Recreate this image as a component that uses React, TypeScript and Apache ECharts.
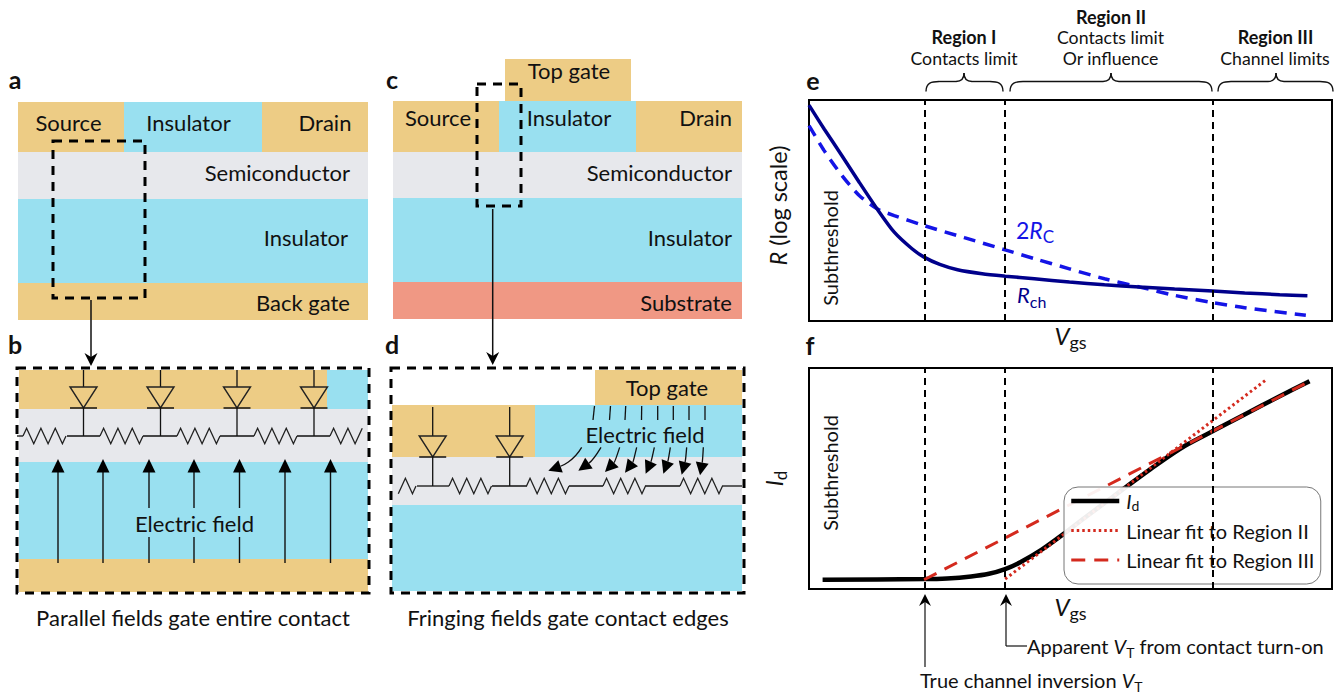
import React, { useEffect, useRef } from "react";
import * as echarts from "echarts";

// ---- curve data (Vgs and response, arbitrary normalised units) ----
const rchX = [0, 2.9, 6.3, 9.6, 13, 16.3, 19.7, 22, 25, 28.4, 33.1, 37.5, 43.1, 49.8, 56.5, 63.2, 69.9, 77.2, 83.3, 90, 95.3];
const rchY = [97.7, 86.9, 74.8, 62.8, 50.8, 40.2, 32.7, 28.9, 25.6, 23.2, 21.4, 20.3, 19.1, 17.6, 16.4, 15.4, 14.5, 13.6, 12.7, 11.9, 11.4];
const rcX = [0, 2.9, 6.3, 9.6, 13, 16.3, 22, 29.7, 37.5, 43.1, 49.8, 56.5, 63.2, 69.9, 77.2, 83.3, 95];
const rcY = [88.4, 77.1, 65.8, 56.8, 50.8, 47.7, 43.2, 37.7, 32.2, 28.2, 23.6, 19.1, 15.4, 11.6, 8.3, 6.0, 2.6];
const idX = [2.6, 22, 26.4, 31, 34.4, 37.5, 40.4, 44.5, 48.5, 53.1, 57.8, 60.8, 66.5, 71.9, 77.6, 83.3, 90, 95.7];
const idY = [4.2, 4.5, 4.8, 5.7, 6.9, 9, 12.1, 17.8, 24.6, 32.9, 41.2, 46.5, 56.3, 64.8, 71.9, 79, 87.2, 94];
const fit2X = [37.5, 87.6];
const fit2Y = [4.5, 95];
const fit3X = [22, 95.7];
const fit3Y = [4.2, 94];
const regionEdges = [22.2, 37.5, 77.2];
const legendNames = ["Id", "Linear fit to Region II", "Linear fit to Region III"];

const FONT = "Lato";
const GOLD = "#edcc85", BLUE = "#99e0f0", GREY = "#e7e8ec", SALMON = "#f09884";
const TXT = "#111";

const zip = (a: number[], b: number[]) => a.map((v, i) => [v, b[i]]);

const rect = (x0: number, y0: number, x1: number, y1: number, fill: string) => ({
  type: "rect", shape: { x: x0, y: y0, width: x1 - x0, height: y1 - y0 }, style: { fill },
});
const dashBox = (x0: number, y0: number, x1: number, y1: number, w = 2.5) => ({
  type: "rect", shape: { x: x0, y: y0, width: x1 - x0, height: y1 - y0 },
  style: { fill: "none", stroke: "#000", lineWidth: w, lineDash: [9, 7] },
});
const line = (x1: number, y1: number, x2: number, y2: number, w = 1.3, stroke = "#111") => ({
  type: "line", shape: { x1, y1, x2, y2 }, style: { stroke, lineWidth: w },
});
const text = (t: string, x: number, y: number, o: any = {}) => {
  const { rotation, ...s } = o;
  return {
    type: "text", x, y: rotation ? y : y - 1.5, rotation: rotation || 0,
    style: { text: t, fontFamily: FONT, fontSize: 22, fill: TXT, align: "center", verticalAlign: "middle", ...s },
  };
};
const poly = (points: number[][], fill: string) => ({ type: "polygon", shape: { points }, style: { fill } });

const upArrowOpen = (x: number, yTip: number, yTail: number, w = 1.4) => [
  line(x, yTip + 4, x, yTail, w),
  poly([[x, yTip], [x + 6, yTip + 12], [x, yTip + 8], [x - 6, yTip + 12]], "#000"),
];
const downArrowOpen = (x: number, yTail: number, yTip: number) => [
  line(x, yTail, x, yTip - 4, 1.5),
  poly([[x, yTip], [x + 6.5, yTip - 13], [x, yTip - 9], [x - 6.5, yTip - 13]], "#000"),
];

const diode = (x: number, yTop: number, yTri: number, yBar: number, yWire: number) => [
  line(x, yTop, x, yTri),
  { type: "polygon", shape: { points: [[x - 13.5, yTri], [x + 13.5, yTri], [x, yBar]] }, style: { fill: "none", stroke: "#222", lineWidth: 1.4 } },
  line(x - 13.5, yBar, x + 13.5, yBar, 1.5),
  line(x, yBar, x, yWire),
];

const resistor = (x0: number, x1: number, y: number, minX: number, maxX: number) => {
  const amp = 7.8;
  const step = (x1 - x0) / 6;
  const pts: number[][] = [[x0, y]];
  for (let i = 0; i < 6; i++) pts.push([x0 + (i + 0.5) * step, y + (i % 2 === 0 ? -amp : amp)]);
  pts.push([x1, y]);
  const kept = pts.filter((p) => p[0] >= minX && p[0] <= maxX);
  return { type: "polyline", shape: { points: kept }, style: { stroke: "#222", lineWidth: 1.3, fill: "none" } };
};

const brace = (x0: number, xm: number, x1: number) => {
  const yB = 91.5, yM = 81.5, yT = 73;
  const seg = (a: number[], c1: number[], c2: number[], b: number[]) => ({
    type: "bezierCurve",
    shape: { x1: a[0], y1: a[1], cpx1: c1[0], cpy1: c1[1], cpx2: c2[0], cpy2: c2[1], x2: b[0], y2: b[1] },
    style: { stroke: "#111", lineWidth: 1.4, fill: "none" },
  });
  return [
    seg([x0, yB], [x0, yM + 1], [x0 + 6, yM], [x0 + 13, yM]),
    line(x0 + 13, yM, xm - 8, yM, 1.4),
    seg([xm - 8, yM], [xm - 3, yM], [xm, yM - 3], [xm, yT]),
    seg([xm, yT], [xm, yM - 3], [xm + 3, yM], [xm + 8, yM]),
    line(xm + 8, yM, x1 - 13, yM, 1.4),
    seg([x1 - 13, yM], [x1 - 6, yM], [x1, yM + 1], [x1, yB]),
  ];
};

const curvedArrows = [
  [590, 322, 565, 365, 490, 392], [648, 322, 625, 360, 580, 392], [704, 322, 690, 365, 660, 396], [755, 322, 745, 365, 720, 398],
  [808, 322, 800, 360, 782, 401], [856, 322, 850, 360, 835, 401], [905, 322, 902, 360, 890, 404], [955, 322, 953, 360, 945, 406],
];
const curved = curvedArrows.flatMap((a) => {
  const X = (z: number) => 385 + z / 3, Y = (z: number) => 340 + z / 3;
  const sx = X(a[0]), sy = Y(a[1]), cx = X(a[2]), cy = Y(a[3]), tx = X(a[4]), ty = Y(a[5]);
  let dx = tx - cx, dy = ty - cy;
  const L = Math.hypot(dx, dy); dx /= L; dy /= L;
  const hl = 13, hw = 6.5;
  const bx = tx - dx * hl, by = ty - dy * hl;
  return [
    { type: "bezierCurve", shape: { x1: sx, y1: sy, cpx1: cx, cpy1: cy, cpx2: bx, cpy2: by, x2: bx, y2: by }, style: { stroke: "#111", lineWidth: 1.3, fill: "none" } },
    poly([[tx, ty], [bx - dy * hw, by + dx * hw], [bx + dy * hw, by - dx * hw]], "#000"),
  ];
});

const rich = (size: number, color = TXT, lh = size + 8) => ({
  i: { fontFamily: FONT, fontStyle: "italic", fontSize: size, fill: color, color, lineHeight: lh },
  n: { fontFamily: FONT, fontSize: size, fill: color, color, lineHeight: lh },
  s: { fontFamily: FONT, fontSize: size - 6, fill: color, color, verticalAlign: "bottom", lineHeight: lh - 6 },
});

const graphics: any[] = [
  // panel a
  rect(18, 102, 124, 152, GOLD), rect(124, 102, 262, 152, BLUE), rect(262, 102, 368, 152, GOLD),
  rect(18, 152, 368, 199, GREY), rect(18, 199, 368, 283, BLUE), rect(18, 283, 368, 320, GOLD),
  dashBox(53, 141, 145, 298, 3),
  text("a", 15, 80, { fontWeight: "bold", fontSize: 25 }),
  text("Source", 68.5, 124), text("Insulator", 188.5, 124), text("Drain", 325, 124),
  text("Semiconductor", 350, 173.5, { align: "right" }), text("Insulator", 348, 238.5, { align: "right" }), text("Back gate", 350, 303.5, { align: "right" }),
  ...downArrowOpen(91, 300, 366),
  // panel b
  rect(19, 370, 327, 409, GOLD), rect(327, 370, 368, 409, BLUE),
  rect(19, 409, 368, 462, GREY), rect(19, 462, 368, 559, BLUE), rect(19, 559, 368, 592, GOLD),
  ...[83.5, 160.5, 237, 314].flatMap((x) => diode(x, 370, 387, 408, 436)),
  line(17, 436, 23, 436), line(67, 436, 100, 436), line(143, 436, 177, 436), line(220, 436, 254, 436), line(297, 436, 330, 436),
  ...[23, 100, 177, 254, 330].map((x) => resistor(x, x + 43, 436, 19, 368)),
  ...[58, 103, 149, 194, 239.5, 285, 330.5].flatMap((x) => [
    line(x, 563, x, 470, 1.4),
    poly([[x, 459], [x + 6.5, 472.5], [x - 6.5, 472.5]], "#000"),
  ]),
  rect(136, 508, 254, 537, BLUE),
  text("Electric field", 194.5, 525),
  dashBox(17, 368, 369, 593, 3),
  text("b", 15, 345, { fontWeight: "bold", fontSize: 25 }),
  text("Parallel fields gate entire contact", 193, 619),
  // panel c
  rect(505, 59, 631, 101, GOLD),
  rect(393, 101, 499, 152, GOLD), rect(499, 101, 636, 152, BLUE), rect(636, 101, 742, 152, GOLD),
  rect(393, 152, 742, 198, GREY), rect(393, 198, 742, 282, BLUE), rect(393, 282, 742, 319, SALMON),
  dashBox(477, 84, 521, 206, 3),
  text("c", 392, 80, { fontWeight: "bold", fontSize: 25 }),
  text("Top gate", 569, 71.5), text("Source", 438, 119), text("Insulator", 569, 119),
  text("Drain", 732, 119, { align: "right" }), text("Semiconductor", 732, 173.5, { align: "right" }),
  text("Insulator", 732, 238.5, { align: "right" }), text("Substrate", 732, 303.5, { align: "right" }),
  ...downArrowOpen(492.7, 209, 365),
  // panel d
  rect(595, 370, 742, 405, GOLD), rect(392, 405, 535, 457, GOLD), rect(535, 405, 742, 457, BLUE),
  rect(392, 457, 742, 505, GREY), rect(392, 505, 742, 591, BLUE),
  ...[432.7, 509.7].flatMap((x) => diode(x, 407, 436, 457, 486)),
  line(417, 486, 449, 486), line(492, 486, 527, 486), line(569, 486, 603, 486), line(645, 486, 680, 486), line(722, 486, 742, 486),
  ...[373.5, 449, 526.5, 603, 680].map((x) => resistor(x, x + 42.5, 486, 392, 742)),
  line(594.5, 406, 593, 420), line(610.5, 406, 609.5, 420), line(625.7, 406, 625, 420),
  line(641.7, 406, 641.5, 420), line(657.7, 406, 657.7, 420), line(673.3, 406, 673.3, 420),
  line(689, 406, 689, 420), line(705, 406, 705, 420),
  ...curved,
  text("Electric field", 645, 436),
  text("Top gate", 667, 389),
  dashBox(391, 368, 744, 593, 3),
  text("d", 392, 345, { fontWeight: "bold", fontSize: 25 }),
  text("Fringing fields gate contact edges", 568, 619),
  // panel e annotations
  text("e", 813, 81, { fontWeight: "bold", fontSize: 25 }),
  text("f", 810, 346, { fontWeight: "bold", fontSize: 25 }),
  text("Region I", 964, 38.5, { fontWeight: "bold", fontSize: 18 }),
  text("Contacts limit", 964, 59.5, { fontSize: 17.7 }),
  text("Region II", 1111, 18, { fontWeight: "bold", fontSize: 18 }),
  text("Contacts limit", 1110.5, 38.5, { fontSize: 17.7 }),
  text("Or influence", 1110.5, 59.5, { fontSize: 17.7 }),
  text("Region III", 1275.5, 38.5, { fontWeight: "bold", fontSize: 18 }),
  text("Channel limits", 1275, 59.5, { fontSize: 17.7 }),
  ...brace(926, 964, 1003), ...brace(1010, 1111, 1212), ...brace(1218, 1276, 1333),
  text("Subthreshold", 830, 248, { rotation: Math.PI / 2, fontSize: 20 }),
  text("Subthreshold", 830, 473, { rotation: Math.PI / 2, fontSize: 20 }),
  text("2{i|R}{s|C}", 1016, 231, { align: "left", fill: "#1414e6", fontSize: 23, rich: rich(23, "#1414e6") }),
  text("{i|R}{s|ch}", 1017, 296, { align: "left", fill: "#00008b", fontSize: 22, rich: rich(22, "#00008b") }),
  // panel f annotations
  ...upArrowOpen(925, 594, 667, 1.2),
  ...upArrowOpen(1006, 594, 646, 1.2),
  line(1006, 646, 1027, 646, 1.2),
  text("{n|Apparent }{i|V}{s|T}{n| from contact turn-on}", 1027, 647, { align: "left", fontSize: 20, rich: rich(20) }),
  text("{n|True channel inversion }{i|V}{s|T}", 920, 681, { align: "left", fontSize: 20, rich: rich(20) }),
];

const marks = () => ({
  silent: true, symbol: "none", animation: false, label: { show: false },
  lineStyle: { color: "#000", width: 2, type: [7, 5] as any },
  data: regionEdges.map((x) => ({ xAxis: x })),
});

const axisBase = { min: 0, max: 100, type: "value" as const, axisLine: { show: false }, axisTick: { show: false }, axisLabel: { show: false }, splitLine: { show: false } };

const option: any = {
  animation: false,
  backgroundColor: "#fff",
  textStyle: { fontFamily: FONT },
  grid: [
    { left: 809, top: 100, width: 523, height: 221, show: true, borderColor: "#000", borderWidth: 2, backgroundColor: "transparent" },
    { left: 809, top: 368, width: 523, height: 221, show: true, borderColor: "#000", borderWidth: 2, backgroundColor: "transparent" },
  ],
  xAxis: [
    { ...axisBase, gridIndex: 0, name: "{i|V}{s|gs}", nameLocation: "middle", nameGap: -2, nameTextStyle: { rich: rich(24) } },
    { ...axisBase, gridIndex: 1, name: "{i|V}{s|gs}", nameLocation: "middle", nameGap: 1, nameTextStyle: { rich: rich(24) } },
  ],
  yAxis: [
    { ...axisBase, gridIndex: 0, name: "{i|R}{n| (log scale)}", nameLocation: "middle", nameGap: 15, nameRotate: 90, nameTextStyle: { padding: [0, 0, 0, 10], rich: rich(23.5) } },
    { ...axisBase, gridIndex: 1, name: "{i|I}{s|d}", nameLocation: "middle", nameGap: 20, nameRotate: 90, nameTextStyle: { rich: rich(23) } },
  ],
  legend: {
    data: [
      { name: legendNames[0], lineStyle: { width: 4.5 } },
      { name: legendNames[1], lineStyle: { width: 3 } },
      { name: legendNames[2], lineStyle: { width: 3 } },
    ],
    left: 1064, top: 487, orient: "vertical",
    itemWidth: 48, itemHeight: 14, itemGap: 7.5,
    padding: [3, 6, 13, 5],
    backgroundColor: "rgba(255,255,255,0.93)",
    borderColor: "#777", borderWidth: 1, borderRadius: 14,
    selectedMode: false,
    itemStyle: { color: "transparent", borderColor: "transparent", opacity: 0 },
    formatter: (n: string) => (n === "Id" ? "{i|I}{s|d}" : n),
    textStyle: { fontFamily: FONT, fontSize: 20, color: TXT, lineHeight: 22, padding: [0, 0, 0, 2], rich: rich(20, TXT, 22) },
  },
  series: [
    { name: "2Rc", type: "line", xAxisIndex: 0, yAxisIndex: 0, data: zip(rcX, rcY), smooth: 0.25, showSymbol: false, lineStyle: { color: "#1414e6", width: 3.5, type: [12, 8] }, itemStyle: { color: "#1414e6" }, markLine: marks() },
    { name: "Rch", type: "line", xAxisIndex: 0, yAxisIndex: 0, data: zip(rchX, rchY), smooth: 0.25, showSymbol: false, lineStyle: { color: "#00008b", width: 3.5 }, itemStyle: { color: "#00008b" } },
    { name: "Id", type: "line", xAxisIndex: 1, yAxisIndex: 1, data: zip(idX, idY), smooth: 0.25, showSymbol: false, lineStyle: { color: "#000", width: 4.5 }, itemStyle: { color: "#000" }, markLine: marks() },
    { name: "Linear fit to Region II", type: "line", xAxisIndex: 1, yAxisIndex: 1, data: zip(fit2X, fit2Y), showSymbol: false, lineStyle: { color: "#d42a1e", width: 3, type: [2.5, 3] }, itemStyle: { color: "#d42a1e" } },
    { name: "Linear fit to Region III", type: "line", xAxisIndex: 1, yAxisIndex: 1, data: zip(fit3X, fit3Y), showSymbol: false, lineStyle: { color: "#d42a1e", width: 3, type: [14, 9] }, itemStyle: { color: "#d42a1e" } },
  ],
  graphic: { elements: graphics },
};

export default function App() {
  const ref = useRef<HTMLDivElement>(null);
  useEffect(() => {
    const chart = echarts.init(ref.current!, null, { renderer: "svg" });
    chart.setOption(option);
    return () => chart.dispose();
  }, []);
  return <div ref={ref} style={{ position: "fixed", left: 0, top: 0, width: 1338, height: 695, background: "#fff" }} />;
}
